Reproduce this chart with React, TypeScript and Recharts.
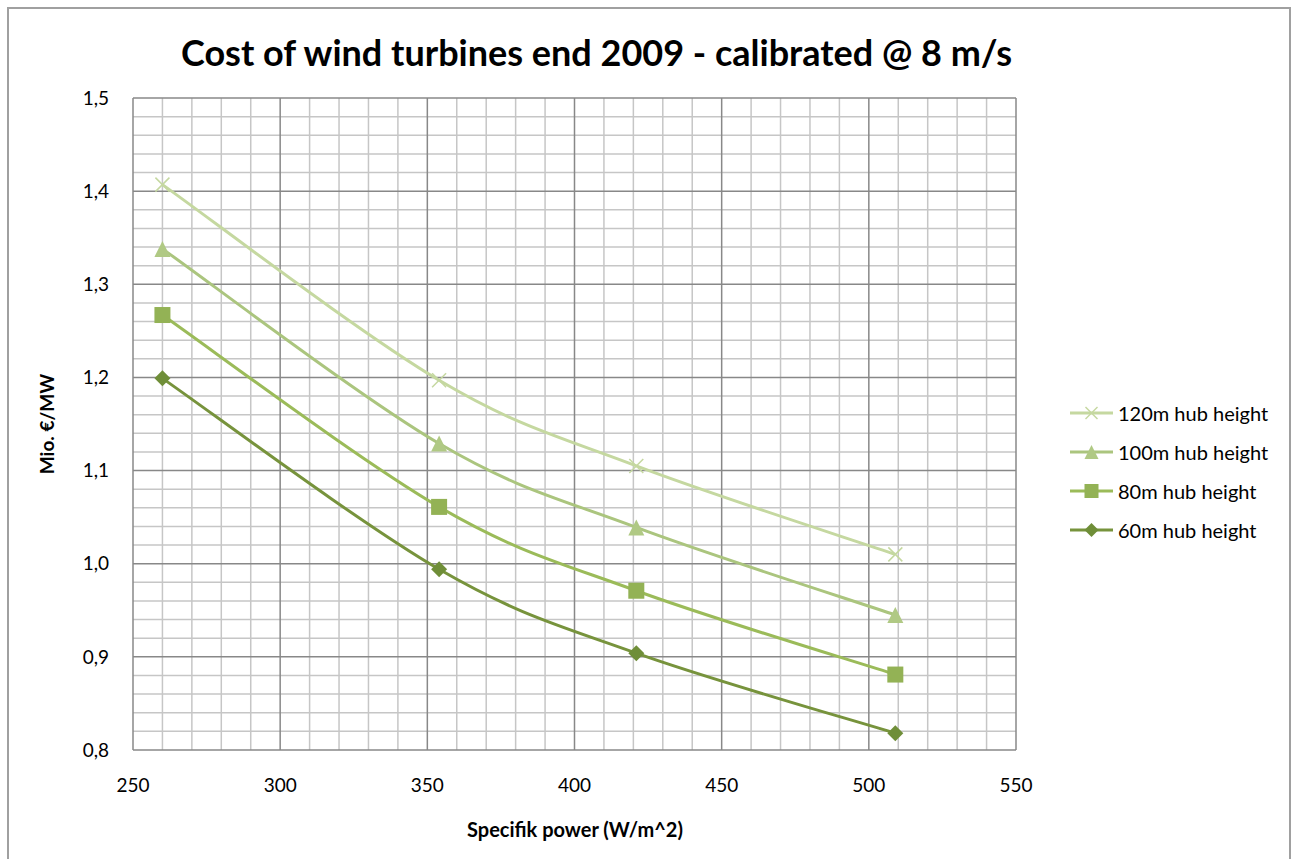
import React from "react";
import { LineChart, Line, XAxis, YAxis, CartesianGrid, Legend } from "recharts";

const specificPower = [260, 354, 421, 509];
const hub120 = [1.407, 1.197, 1.105, 1.01];
const hub100 = [1.338, 1.129, 1.039, 0.945];
const hub80 = [1.267, 1.061, 0.971, 0.881];
const hub60 = [1.199, 0.994, 0.904, 0.818];

const xTicks = [250, 300, 350, 400, 450, 500, 550];
const yTicks = [0.8, 0.9, 1.0, 1.1, 1.2, 1.3, 1.4, 1.5];
const xMinor = [260, 270, 280, 290, 310, 320, 330, 340, 360, 370, 380, 390, 410, 420, 430, 440, 460, 470, 480, 490, 510, 520, 530, 540];
const yMinor = [0.82, 0.84, 0.86, 0.88, 0.92, 0.94, 0.96, 0.98, 1.02, 1.04, 1.06, 1.08, 1.12, 1.14, 1.16, 1.18, 1.22, 1.24, 1.26, 1.28, 1.32, 1.34, 1.36, 1.38, 1.42, 1.44, 1.46, 1.48];

const data = specificPower.map((x, i) => ({
  x,
  h120: hub120[i],
  h100: hub100[i],
  h80: hub80[i],
  h60: hub60[i],
}));

const FONT = "Lato, 'Open Sans', sans-serif";

// Excel-style smoothed line (Catmull-Rom through the points)
function excelCurve(context: any) {
  let pts: number[][] = [];
  return {
    areaStart() {},
    areaEnd() {},
    lineStart() {
      pts = [];
    },
    point(x: number, y: number) {
      pts.push([+x, +y]);
    },
    lineEnd() {
      const n = pts.length;
      if (n === 0) return;
      context.moveTo(pts[0][0], pts[0][1]);
      for (let i = 0; i < n - 1; i++) {
        const p0 = pts[i - 1] || pts[i];
        const p1 = pts[i];
        const p2 = pts[i + 1];
        const p3 = pts[i + 2] || pts[i + 1];
        const c1x = p1[0] + (p2[0] - p0[0]) / 6;
        const c1y = p1[1] + (p2[1] - p0[1]) / 6;
        const c2x = p2[0] - (p3[0] - p1[0]) / 6;
        const c2y = p2[1] - (p3[1] - p1[1]) / 6;
        context.bezierCurveTo(c1x, c1y, c2x, c2y, p2[0], p2[1]);
      }
    },
  };
}

type MarkerKind = "cross" | "triangle" | "square" | "diamond";

const seriesDefs: { key: string; name: string; line: string; mark: string; kind: MarkerKind }[] = [
  { key: "h120", name: "120m hub height", line: "#c5d8a0", mark: "#c5d8a0", kind: "cross" },
  { key: "h100", name: "100m hub height", line: "#abc57e", mark: "#b0c984", kind: "triangle" },
  { key: "h80", name: "80m hub height", line: "#9bbb59", mark: "#93b255", kind: "square" },
  { key: "h60", name: "60m hub height", line: "#77933c", mark: "#6f8e38", kind: "diamond" },
];

function markerShape(kind: MarkerKind, cx: number, cy: number, color: string, s: number) {
  const h = s / 2;
  if (kind === "cross") {
    return (
      <g>
        <line x1={cx - h} y1={cy - h} x2={cx + h} y2={cy + h} stroke={color} strokeWidth={1.5} />
        <line x1={cx - h} y1={cy + h} x2={cx + h} y2={cy - h} stroke={color} strokeWidth={1.5} />
      </g>
    );
  }
  if (kind === "triangle") {
    return <polygon points={`${cx},${cy - h} ${cx + h},${cy + h} ${cx - h},${cy + h}`} fill={color} />;
  }
  if (kind === "square") {
    return <rect x={cx - h} y={cy - h} width={s} height={s} fill={color} />;
  }
  return <polygon points={`${cx},${cy - h} ${cx + h},${cy} ${cx},${cy + h} ${cx - h},${cy}`} fill={color} />;
}

const makeDot = (kind: MarkerKind, color: string) => (props: any) => {
  const { cx, cy, index } = props;
  if (cx == null || cy == null) return <g key={`d-${index}`} />;
  const s = kind === "cross" ? 14 : 16;
  return <g key={`d-${kind}-${index}`}>{markerShape(kind, cx, cy, color, s)}</g>;
};

const renderLegend = () => (
  <div style={{ fontFamily: FONT, fontSize: 20, color: "#000", width: 220 }}>
    {seriesDefs.map((s) => (
      <div key={s.key} style={{ display: "flex", alignItems: "center", height: 39 }}>
        <svg width={50} height={20} style={{ display: "block" }}>
          <line x1={2} y1={10} x2={45} y2={10} stroke={s.line} strokeWidth={3} />
          {markerShape(s.kind, 23.5, 10, s.mark, s.kind === "cross" ? 12 : 14)}
        </svg>
        <span style={{ marginLeft: 0, whiteSpace: "nowrap" }}>{s.name}</span>
      </div>
    ))}
  </div>
);

export default function App() {
  return (
    <div style={{ position: "absolute", left: 0, top: 0, width: 1293, height: 859, background: "#fff", overflow: "hidden" }}>
      <div
        style={{
          position: "absolute",
          left: 7,
          top: 7,
          width: 1280,
          height: 900,
          borderLeft: "2px solid #a0a0a0",
          borderTop: "2px solid #a0a0a0",
          borderRight: "2px solid #a0a0a0",
        }}
      />
      <div
        style={{
          position: "absolute",
          left: 0,
          width: 1193,
          top: 28,
          textAlign: "center",
          fontFamily: FONT,
          fontWeight: 700,
          fontSize: 36,
          lineHeight: "48px",
          color: "#000",
        }}
      >
        Cost of wind turbines end 2009 - calibrated @ 8 m/s
      </div>
      <div
        style={{
          position: "absolute",
          left: 46,
          top: 424,
          transform: "translate(-50%, -50%) rotate(-90deg)",
          fontFamily: FONT,
          fontWeight: 700,
          fontSize: 19,
          whiteSpace: "nowrap",
          color: "#000",
        }}
      >
        Mio. €/MW
      </div>
      <div
        style={{
          position: "absolute",
          left: 575,
          top: 829,
          transform: "translate(-50%, -50%)",
          fontFamily: FONT,
          fontWeight: 700,
          fontSize: 20,
          whiteSpace: "nowrap",
          color: "#000",
        }}
      >
        Specifik power (W/m^2)
      </div>
      <div style={{ position: "absolute", left: 0, top: 0 }}>
        <LineChart width={1293} height={859} data={data} margin={{ top: 98, right: 57, bottom: 69, left: 93 }}>
          <CartesianGrid stroke="#c6c6c6" strokeWidth={1.5} verticalValues={xMinor} horizontalValues={yMinor} />
          <CartesianGrid stroke="#888888" strokeWidth={1.5} verticalValues={xTicks} horizontalValues={yTicks} />
          <XAxis
            dataKey="x"
            type="number"
            domain={[250, 550]}
            ticks={xTicks}
            axisLine={false}
            tickLine={false}
            tickSize={0}
            tickMargin={29}
            height={40}
            interval={0}
            tick={{ fontFamily: FONT, fontSize: 19, fill: "#000" }}
          />
          <YAxis
            type="number"
            domain={[0.8, 1.5]}
            ticks={yTicks}
            axisLine={false}
            tickLine={false}
            tickSize={0}
            tickMargin={24}
            width={40}
            interval={0}
            tickFormatter={(v: number) => v.toFixed(1).replace(".", ",")}
            tick={{ fontFamily: FONT, fontSize: 19, fill: "#000" }}
          />
          {seriesDefs.map((s) => (
            <Line
              key={s.key}
              dataKey={s.key}
              name={s.name}
              type={excelCurve as any}
              stroke={s.line}
              strokeWidth={3}
              dot={makeDot(s.kind, s.mark)}
              activeDot={false}
              isAnimationActive={false}
            />
          ))}
          <Legend
            layout="vertical"
            align="right"
            verticalAlign="middle"
            content={renderLegend}
            wrapperStyle={{ left: 1068, top: 393, width: 220, bottom: "auto", right: "auto" }}
          />
        </LineChart>
      </div>
    </div>
  );
}
